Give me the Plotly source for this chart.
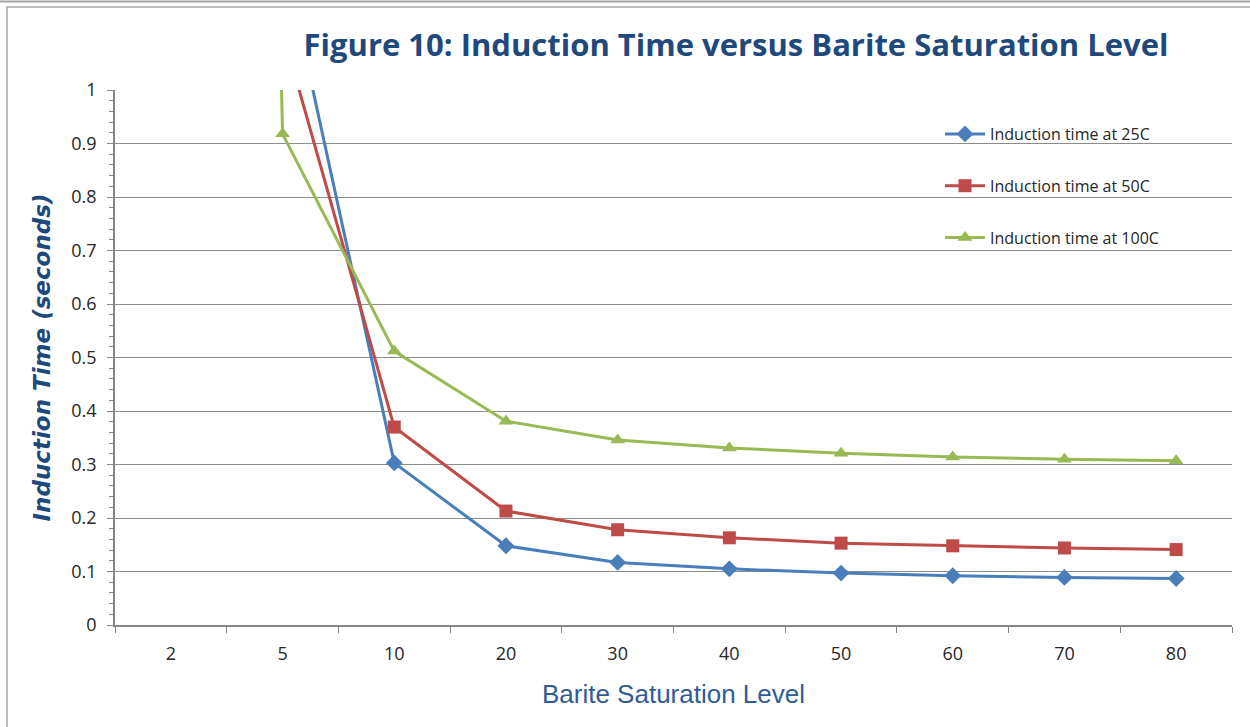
import plotly.graph_objects as go

categories = ["2", "5", "10", "20", "30", "40", "50", "60", "70", "80"]
t25 = [5.0, 1.26, 0.303, 0.148, 0.117, 0.105, 0.097, 0.092, 0.089, 0.087]
t50 = [3.0, 1.11, 0.370, 0.213, 0.178, 0.163, 0.153, 0.148, 0.144, 0.141]
t100 = [10.0, 0.918, 0.512, 0.381, 0.346, 0.331, 0.321, 0.314, 0.310, 0.307]
y_ticks = [0, 0.1, 0.2, 0.3, 0.4, 0.5, 0.6, 0.7, 0.8, 0.9, 1]

W, H = 1250, 727
L, R, T, B = 115, 1232, 90, 625


def px_x(px):
    return (px - L) / (R - L)


def px_y(py):
    return (B - py) / (B - T)


fig = go.Figure()
fig.add_trace(go.Scatter(x=categories, y=t25, mode="lines+markers", name="Induction time at 25C",
                         line=dict(color="#4A7EBB", width=3),
                         marker=dict(symbol="diamond", size=13, color="#4A7EBB"),
                         legendgroup="a"))
fig.add_trace(go.Scatter(x=categories, y=t50, mode="lines+markers", name="Induction time at 50C",
                         line=dict(color="#BE4B48", width=3),
                         marker=dict(symbol="square", size=13, color="#BE4B48"),
                         legendgroup="b"))
fig.add_trace(go.Scatter(x=categories, y=t100, mode="lines+markers", name="Induction time at 100C",
                         line=dict(color="#98B954", width=3),
                         marker=dict(symbol="triangle-up", size=13, color="#98B954"),
                         legendgroup="c"))

tickfont = dict(family="Open Sans, sans-serif", size=18, color="#262626")

fig.update_layout(
    width=W, height=H,
    margin=dict(l=L, r=W - R, t=T, b=H - B),
    plot_bgcolor="white", paper_bgcolor="white",
    title=dict(text="<b>Figure 10: Induction Time versus Barite Saturation Level</b>",
               x=px_x(736), xref="paper", xanchor="center",
               y=1 - 45 / H, yanchor="middle",
               font=dict(family="Open Sans, sans-serif", size=31, color="#1F497D")),
    xaxis=dict(type="category", range=[-0.5, 9.5], tickson="boundaries", ticks="outside",
               ticklen=6, tickcolor="#868686", showline=True, linecolor="#868686", linewidth=1.5,
               showgrid=False, tickfont=tickfont, ticklabelstandoff=12,
               title=dict(text="Barite Saturation Level", standoff=20,
                          font=dict(family="Liberation Sans, Arial, sans-serif", size=26, color="#2F5C96"))),
    yaxis=dict(range=[0, 1], tickvals=y_ticks, ticktext=[str(v) if v not in (0, 1) else str(int(v)) for v in y_ticks],
               ticks="outside", ticklen=6, tickcolor="#868686",
               showline=True, linecolor="#868686", linewidth=1.5,
               showgrid=True, gridcolor="#8C8C8C", gridwidth=1, zeroline=False,
               minor=dict(dtick=0.02, ticks="outside", ticklen=4, tickcolor="#868686", showgrid=False),
               tickfont=tickfont, ticklabelstandoff=7,
               title=dict(text="<b><i>Induction Time (seconds)</i></b>", standoff=14,
                          font=dict(family="DejaVu Sans, sans-serif", size=23, color="#1F497D"))),
    legend=dict(x=px_x(940), y=px_y(117), xanchor="left", yanchor="top",
                bgcolor="rgba(0,0,0,0)", traceorder="grouped", tracegroupgap=28, itemwidth=40,
                font=dict(family="Open Sans, sans-serif", size=16, color="#262626")),
    showlegend=True,
)

# legend background box covering gridlines
fig.add_shape(type="rect", xref="paper", yref="paper",
              x0=px_x(882), x1=px_x(1210), y0=px_y(272), y1=px_y(110),
              fillcolor="white", line=dict(width=0), layer="between")
# outer chart frame
fig.add_shape(type="rect", xref="paper", yref="paper",
              x0=px_x(7), x1=px_x(1300), y0=px_y(800), y1=px_y(7),
              line=dict(color="#A6A6A6", width=1.5), fillcolor="rgba(0,0,0,0)")
fig.add_shape(type="line", xref="paper", yref="paper",
              x0=px_x(0), x1=px_x(1300), y0=px_y(1.5), y1=px_y(1.5),
              line=dict(color="#A6A6A6", width=2))

fig.write_html("out.html", config={"displayModeBar": False},
               post_script="document.body.style.margin='0px';")
